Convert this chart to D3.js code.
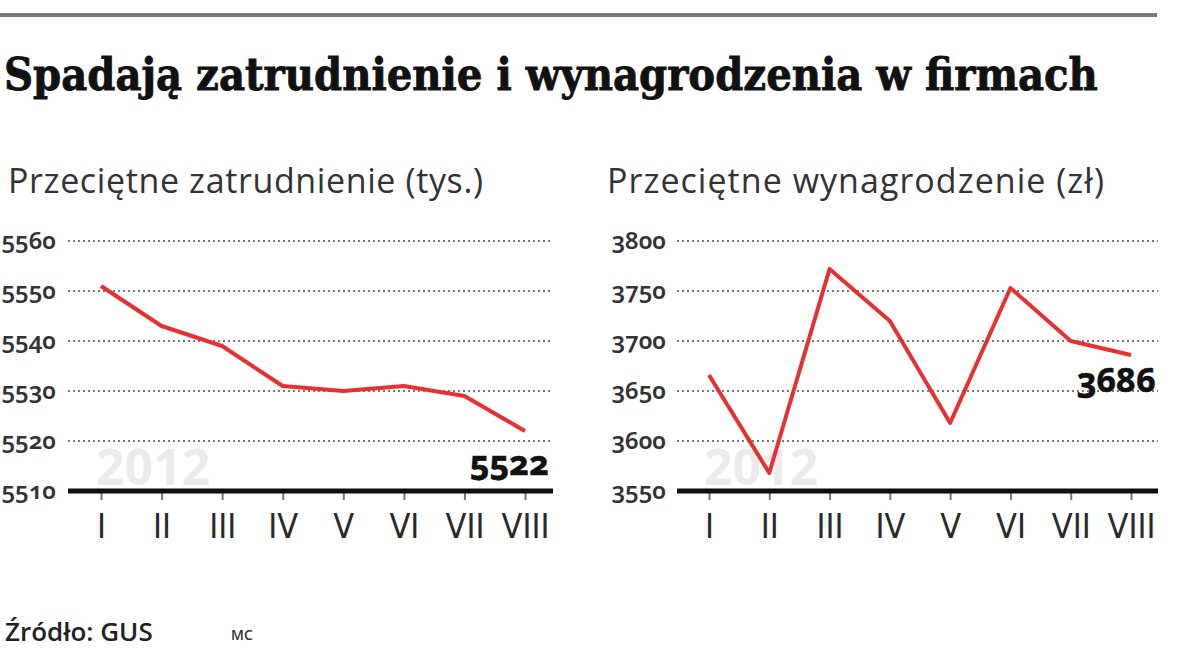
<!DOCTYPE html>
<html>
<head>
<meta charset="utf-8">
<script src="https://cdn.jsdelivr.net/npm/d3@7"></script>
<style>
  html, body { margin: 0; padding: 0; background: #fff; }
  svg { display: block; }
  .onum { font-variant-numeric: oldstyle-nums; font-feature-settings: "onum" 1; }
</style>
</head>
<body>
<svg id="chart" width="1200" height="667"></svg>
<script>
/* ── DATA ───────────────────────────────────────── */
const months      = ['I', 'II', 'III', 'IV', 'V', 'VI', 'VII', 'VIII'];
const employment  = [5551, 5543, 5539, 5531, 5530, 5531, 5529, 5522];
const wages       = [3666, 3568, 3772, 3720, 3618, 3753, 3700, 3686];
const empTicks    = [5510, 5520, 5530, 5540, 5550, 5560];
const wageTicks   = [3550, 3600, 3650, 3700, 3750, 3800];

const svg = d3.select('#chart');

// stretch a text node to a given width by tweaking letter spacing
function fitWidth(sel, width) {
  const w = sel.node().getComputedTextLength();
  const n = sel.text().length;
  sel.attr('letter-spacing', (width - w) / (n - 1));
}

/* ── HEADER ─────────────────────────────────────── */
svg.append('rect').attr('x', 0).attr('y', 13).attr('width', 1157).attr('height', 4).attr('fill', '#7a7a7a');

const title = svg.append('text')
  .attr('x', 4).attr('y', 90)
  .attr('font-family', '"DejaVu Serif Condensed", "DejaVu Serif", serif')
  .attr('font-weight', 'bold').attr('font-size', 42).attr('fill', '#111')
  .attr('stroke', '#111').attr('stroke-width', 0.8)
  .text('Spadają zatrudnienie i wynagrodzenia w firmach');
const tw = title.node().getComputedTextLength();
title.attr('font-size', 42 * 1094 / tw);

/* ── PANEL ──────────────────────────────────────── */
function panel(opt) {
  const g = svg.append('g');
  const x = d3.scalePoint().domain(months).range([opt.x0, opt.x1]);
  const y = d3.scaleLinear().domain(opt.domain).range([491, 241]);

  const sub = g.append('text')
    .attr('x', opt.titleX).attr('y', 193)
    .attr('font-family', '"Open Sans", sans-serif').attr('font-size', 34).attr('fill', '#333')
    .text(opt.title);
  fitWidth(sub, opt.titleW);

  // watermark year
  g.append('text')
    .attr('x', opt.x0 - 5).attr('y', 485)
    .attr('font-family', '"Open Sans", sans-serif').attr('font-weight', 'bold')
    .attr('font-size', 50).attr('fill', '#ebebeb')
    .text('2012');

  // dotted grid
  g.selectAll('.grid').data(opt.ticks.slice(1)).enter().append('line')
    .attr('x1', opt.gx0).attr('x2', opt.gx1)
    .attr('y1', d => y(d)).attr('y2', d => y(d))
    .attr('stroke', '#7a7a7a').attr('stroke-width', 2).attr('stroke-dasharray', '2,3');

  // y labels
  g.selectAll('.ylab').data(opt.ticks).enter().append('text')
    .attr('class', 'onum')
    .attr('x', opt.labelX).attr('y', d => y(d) + 8)
    .attr('text-anchor', 'end')
    .attr('font-family', '"Noto Sans", sans-serif').attr('font-weight', 600)
    .attr('font-size', 24).attr('fill', '#333')
    .text(d => d);

  // x axis ticks + labels
  const xAxis = d3.axisBottom(x).tickSize(9).tickPadding(12);
  const ax = g.append('g').attr('transform', 'translate(0,491)').call(xAxis);
  ax.select('.domain').remove();
  ax.selectAll('.tick line').attr('stroke', '#777').attr('stroke-width', 2);
  ax.selectAll('.tick text')
    .attr('font-family', '"DejaVu Sans Condensed", sans-serif')
    .attr('font-size', 34).attr('fill', '#2a2a2a')
    .attr('dy', '0.75em');

  g.append('line')
    .attr('x1', opt.gx0).attr('x2', opt.gx1).attr('y1', 491).attr('y2', 491)
    .attr('stroke', '#111').attr('stroke-width', 5);

  // series
  const line = d3.line().x((d, i) => x(months[i])).y(d => y(d));
  g.append('path').datum(opt.values)
    .attr('d', line).attr('fill', 'none')
    .attr('stroke', '#e8302e').attr('stroke-width', 4)
    .attr('stroke-linejoin', 'round');

  const last = opt.values[opt.values.length - 1];
  g.append('text')
    .attr('class', 'onum')
    .attr('x', opt.lastX).attr('y', y(last) + opt.lastDy)
    .attr('text-anchor', 'end')
    .attr('font-family', '"Noto Sans", sans-serif').attr('font-weight', 'bold')
    .attr('font-size', 34).attr('fill', '#111')
    .attr('stroke', '#111').attr('stroke-width', 0.6)
    .text(last);
}

panel({
  title: 'Przeciętne zatrudnienie (tys.)', titleX: 8, titleW: 475,
  x0: 101, x1: 525, gx0: 68, gx1: 553, labelX: 56,
  domain: [5510, 5560], ticks: empTicks, values: employment,
  lastX: 549, lastDy: 44
});

panel({
  title: 'Przeciętne wynagrodzenie (zł)', titleX: 607, titleW: 497,
  x0: 709, x1: 1131, gx0: 677, gx1: 1158, labelX: 666,
  domain: [3550, 3800], ticks: wageTicks, values: wages,
  lastX: 1156, lastDy: 37
});

/* ── FOOTER ─────────────────────────────────────── */
svg.append('text').attr('x', 5).attr('y', 641)
  .attr('font-family', '"Open Sans", sans-serif').attr('font-weight', 600)
  .attr('font-size', 26).attr('fill', '#222')
  .text('Źródło: GUS');
svg.append('text').attr('x', 231).attr('y', 640)
  .attr('font-family', '"Open Sans", sans-serif').attr('font-weight', 600)
  .attr('font-size', 14).attr('fill', '#333')
  .text('MC');
</script>
</body>
</html>
